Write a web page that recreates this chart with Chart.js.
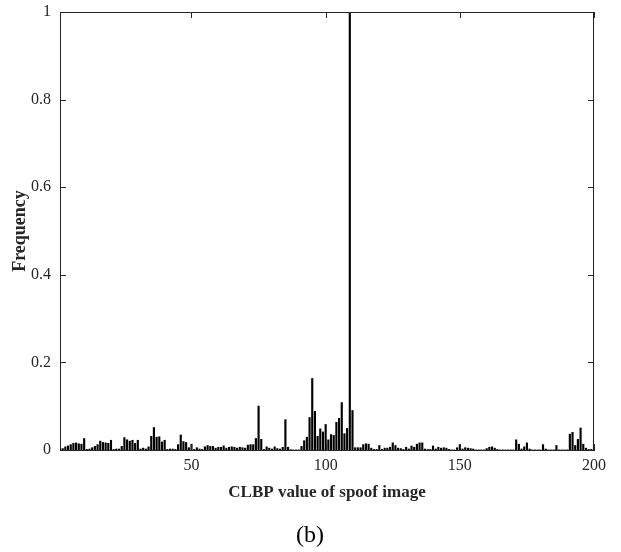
<!DOCTYPE html>
<html>
<head>
    <meta charset="utf-8"/>
    <title>CLBP histogram</title>
    <style>
        html, body { margin: 0; padding: 0; background: #fff; }
        #chart-wrap { width: 621px; height: 552px; }
    </style>
    <script src="https://cdn.jsdelivr.net/npm/chart.js@4/dist/chart.umd.min.js"></script>
</head>
<body>
<div id="chart-wrap"><canvas id="chart"></canvas></div>
<script>
    // CLBP bins 1..200
    const clbpBins = [];
    for (let i = 1; i <= 200; i++) clbpBins.push(i);

    // frequency per bin
    const frequency = [
        0.002, 0.004, 0.008, 0.010, 0.013, 0.016, 0.017, 0.015, 0.014, 0.027,
        0.002, 0.003, 0.006, 0.009, 0.013, 0.021, 0.018, 0.017, 0.016, 0.023,
        0.002, 0.003, 0.003, 0.009, 0.029, 0.024, 0.021, 0.023, 0.016, 0.023,
        0.003, 0.005, 0.003, 0.008, 0.032, 0.052, 0.030, 0.031, 0.019, 0.023,
        0.002, 0.003, 0.003, 0.002, 0.013, 0.035, 0.020, 0.018, 0.006, 0.014,
        0.002, 0.006, 0.003, 0.002, 0.008, 0.011, 0.009, 0.009, 0.005, 0.007,
        0.007, 0.010, 0.005, 0.007, 0.008, 0.007, 0.005, 0.007, 0.006, 0.005,
        0.012, 0.013, 0.013, 0.027, 0.101, 0.025, 0.002, 0.008, 0.005, 0.003,
        0.008, 0.004, 0.003, 0.007, 0.070, 0.007, 0.0015, 0.001, 0.001, 0.001,
        0.009, 0.022, 0.030, 0.075, 0.164, 0.089, 0.032, 0.049, 0.042, 0.059,
        0.024, 0.036, 0.034, 0.064, 0.073, 0.109, 0.038, 0.050, 1.000, 0.091,
        0.006, 0.006, 0.006, 0.013, 0.015, 0.014, 0.005, 0.002, 0.002, 0.011,
        0.002, 0.005, 0.005, 0.007, 0.017, 0.011, 0.005, 0.004, 0.002, 0.007,
        0.003, 0.010, 0.007, 0.014, 0.017, 0.017, 0.003, 0.002, 0.002, 0.010,
        0.003, 0.007, 0.005, 0.006, 0.005, 0.002, 0.001, 0.001, 0.006, 0.013,
        0.003, 0.006, 0.005, 0.004, 0.003, 0.001, 0.001, 0.001, 0.001, 0.004,
        0.007, 0.008, 0.005, 0.002, 0.001, 0.001, 0.001, 0.001, 0.001, 0.001,
        0.024, 0.014, 0.003, 0.008, 0.017, 0.003, 0.001, 0.001, 0.001, 0.001,
        0.013, 0.003, 0.001, 0.001, 0.001, 0.011, 0.001, 0.001, 0.001, 0.001,
        0.037, 0.041, 0.011, 0.025, 0.051, 0.014, 0.005, 0.002, 0.002, 0.023
    ];

    const xTicks = [50, 100, 150, 200];
    const yTicks = [0, 0.2, 0.4, 0.6, 0.8, 1];

    const axisColor = '#262626';
    const serif = "'Liberation Serif', 'Times New Roman', serif";

    // box round the plot + inward tick marks, and the "(b)" caption
    const boxPlugin = {
        id: 'boxTicks',
        afterDatasetsDraw(chart) {
            const ctx = chart.ctx;
            const a = chart.chartArea;
            const x = chart.scales.x;
            const y = chart.scales.y;
            const len = 6;
            ctx.save();
            ctx.strokeStyle = axisColor;
            ctx.lineWidth = 1;
            ctx.beginPath();
            ctx.moveTo(a.left, a.top + 0.5);
            ctx.lineTo(a.right, a.top + 0.5);
            ctx.moveTo(a.right - 0.5, a.top);
            ctx.lineTo(a.right - 0.5, a.bottom);
            y.ticks.forEach((t) => {
                const py = Math.round(y.getPixelForValue(t.value)) + 0.5;
                ctx.moveTo(a.left, py);
                ctx.lineTo(a.left + len, py);
                ctx.moveTo(a.right, py);
                ctx.lineTo(a.right - len, py);
            });
            x.ticks.forEach((t) => {
                const px = Math.round(x.getPixelForValue(t.value)) + 0.5;
                ctx.moveTo(px, a.bottom);
                ctx.lineTo(px, a.bottom - len);
                ctx.moveTo(px, a.top);
                ctx.lineTo(px, a.top + len);
            });
            ctx.stroke();

            ctx.fillStyle = '#000';
            ctx.font = '24px ' + serif;
            ctx.textAlign = 'center';
            ctx.textBaseline = 'middle';
            ctx.fillText('(b)', 310, 536);
            ctx.restore();
        }
    };

    const chartConfig = {
        type: 'bar',
        data: {
            datasets: [
                {
                    label: 'Frequency',
                    data: clbpBins.map((b, i) => ({ x: b, y: frequency[i] })),
                    backgroundColor: '#000',
                    borderWidth: 0,
                    barPercentage: 0.8,
                    categoryPercentage: 1.0,
                },
            ],
        },
        options: {
            responsive: true,
            maintainAspectRatio: false,
            animation: false,
            layout: { padding: { top: 12, right: 27, left: 0, bottom: 0 } },
            plugins: {
                legend: { display: false },
                tooltip: { enabled: false },
            },
            scales: {
                x: {
                    type: 'linear',
                    min: 1,
                    max: 200,
                    offset: false,
                    afterBuildTicks: (scale) => { scale.ticks = xTicks.map((v) => ({ value: v })); },
                    afterFit: (scale) => { scale.height = 102; },
                    grid: { display: false, drawTicks: false, tickLength: 0 },
                    border: { display: true, color: axisColor, width: 1 },
                    ticks: {
                        color: axisColor,
                        font: { family: serif, size: 16 },
                        padding: 6,
                        maxRotation: 0,
                        callback: (v) => String(v),
                    },
                    title: {
                        display: true,
                        text: 'CLBP value of spoof image',
                        color: axisColor,
                        font: { family: serif, size: 17, weight: 'bold' },
                        padding: { top: 0, bottom: 49 },
                    },
                },
                y: {
                    min: 0,
                    max: 1,
                    afterBuildTicks: (scale) => { scale.ticks = yTicks.map((v) => ({ value: v })); },
                    afterFit: (scale) => {
                        scale.width = 60;
                        scale.paddingTop = 0;
                        scale.paddingBottom = 0;
                    },
                    grid: { display: false, drawTicks: false, tickLength: 0 },
                    border: { display: true, color: axisColor, width: 1 },
                    ticks: {
                        color: axisColor,
                        font: { family: serif, size: 16 },
                        padding: 9,
                        callback: (v) => String(v),
                    },
                    title: {
                        display: true,
                        text: 'Frequency',
                        color: axisColor,
                        font: { family: serif, size: 18, weight: 'bold' },
                        padding: { top: 10, bottom: 0 },
                    },
                },
            },
        },
        plugins: [boxPlugin],
    };

    new Chart(document.getElementById('chart').getContext('2d'), chartConfig);
</script>
</body>
</html>
